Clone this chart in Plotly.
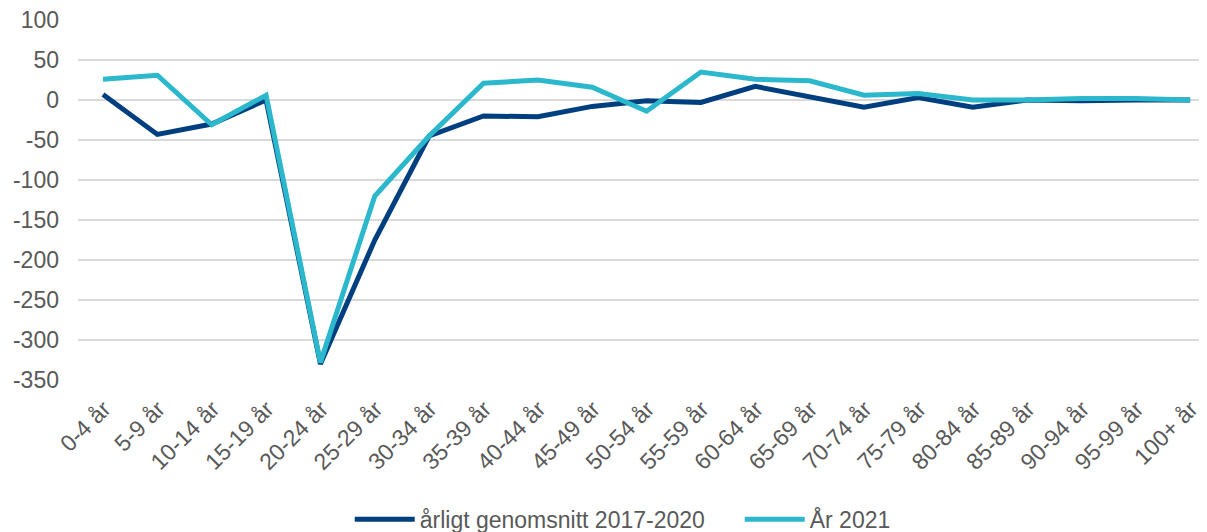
import plotly.graph_objects as go

categories = ["0-4 år", "5-9 år", "10-14 år", "15-19 år", "20-24 år", "25-29 år", "30-34 år",
              "35-39 år", "40-44 år", "45-49 år", "50-54 år", "55-59 år", "60-64 år", "65-69 år",
              "70-74 år", "75-79 år", "80-84 år", "85-89 år", "90-94 år", "95-99 år", "100+ år"]
avg_2017_2020 = [7, -43, -30, 0, -330, -175, -45, -20, -21, -8, -1, -3, 17, 4, -9, 3, -9, 0, -1, 0, 0]
year_2021 = [26, 31, -31, 6, -328, -120, -45, 21, 25, 16, -14, 35, 26, 24, 6, 8, 0, 0, 2, 2, 0]
y_ticks = [100, 50, 0, -50, -100, -150, -200, -250, -300, -350]
y_tick_labels = ["100", "50", "0", "-50", "-100", "-150", "-200", "-250", "-300", "-350"]

fig = go.Figure()
fig.add_trace(go.Scatter(x=categories, y=avg_2017_2020, mode="lines", name="årligt genomsnitt 2017-2020",
                         line=dict(color="#003f7f", width=5)))
fig.add_trace(go.Scatter(x=categories, y=year_2021, mode="lines", name="År 2021",
                         line=dict(color="#2bb8cc", width=5)))

# page body adds an 8px offset; figure is sized to fill the remaining window
fig.update_layout(
    width=1199, height=524,
    margin=dict(l=70, r=0, t=12, b=152),
    plot_bgcolor="white", paper_bgcolor="white",
    font=dict(family="Liberation Sans, Arial, sans-serif", size=23, color="#595959"),
    showlegend=True,
    legend=dict(orientation="h", xref="container", yref="container", x=0.285, xanchor="left",
                y=0.024, yanchor="middle", font=dict(size=23, color="#595959"), itemwidth=60,
                entrywidth=315, traceorder="normal", tracegroupgap=0),
    xaxis=dict(type="category", range=[-0.46, 20.31], tickangle=-45, showgrid=False,
               showline=False, zeroline=False, ticks="", tickfont=dict(size=23), automargin=False,
               ticklabelstandoff=10, ticklabelshift=1, ticklabeloverflow="allow"),
    yaxis=dict(range=[-350, 100], tickvals=y_ticks, ticktext=y_tick_labels, showgrid=True,
               gridcolor="#d9d9d9", gridwidth=1.5, zeroline=False, showline=False, ticks="",
               tickfont=dict(size=23), automargin=False, ticklabelstandoff=18,
               ticklabeloverflow="allow"),
)

fig.write_html("out.html")
